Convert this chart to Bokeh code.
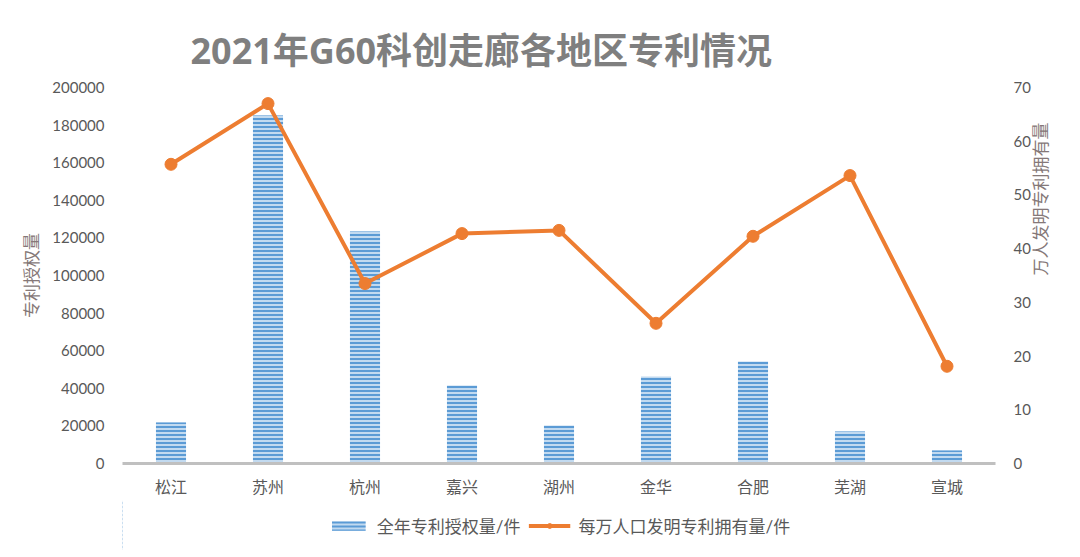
import math
from bokeh.plotting import figure
from bokeh.layouts import column
from bokeh.models import Range1d, LinearAxis, NumeralTickFormatter, FixedTicker, Legend, LegendItem, Title
from bokeh.embed import file_html
from bokeh.resources import INLINE

cities = ["松江", "苏州", "杭州", "嘉兴", "湖州", "金华", "合肥", "芜湖", "宣城"]
grants = [21800, 185100, 123400, 41500, 20200, 46300, 54300, 17000, 6900]
per_10k = [55.7, 67.0, 33.5, 42.8, 43.4, 26.1, 42.3, 53.6, 18.1]
left_ticks = list(range(0, 200001, 20000))
right_ticks = list(range(0, 71, 10))
title_text = "2021年G60科创走廊各地区专利情况"
left_label = "专利授权量"
right_label = "万人发明专利拥有量"
bar_name = "全年专利授权量/件"
line_name = "每万人口发明专利拥有量/件"

FONT = "Lato, 'Noto Sans CJK SC'"
TXT = "#595959"
LBL = "#857878"
BAR_STYLE = dict(fill_color="#c2daf0", line_color=None, hatch_pattern="horizontal_line",
                 hatch_color="#5b9bd5", hatch_scale=4, hatch_weight=2)
ORANGE = "#ed7d31"

p = figure(x_range=cities, y_range=Range1d(0, 200000), frame_width=873, frame_height=376,
           output_backend="svg", toolbar_location=None,
           min_border_left=122, min_border_right=85, min_border_top=87, min_border_bottom=37)
p.extra_y_ranges = {"r": Range1d(0, 70)}

p.title = Title(text=title_text, align="left", offset=68, text_font_size="36px",
                text_font_style="bold", text_color="#7f7f7f",
                text_font="'Open Sans', 'Noto Sans CJK SC'", standoff=25)

bars = p.vbar(x=cities, top=grants, width=0.31, **BAR_STYLE)
line = p.line(cities, per_10k, y_range_name="r", line_color=ORANGE, line_width=4)
pts = p.scatter(cities, per_10k, y_range_name="r", size=12, fill_color=ORANGE, line_color=ORANGE)

p.xgrid.grid_line_color = None
p.ygrid.grid_line_color = None
p.outline_line_color = None

yl = p.yaxis[0]
yl.ticker = FixedTicker(ticks=left_ticks)
yl.formatter = NumeralTickFormatter(format="0")
yl.axis_label = left_label

yr = LinearAxis(y_range_name="r", ticker=FixedTicker(ticks=right_ticks), axis_label=right_label)
yr.axis_label_orientation = math.pi / 2
p.add_layout(yr, "right")

for ax in (yl, yr):
    ax.axis_line_color = None
    ax.major_tick_line_color = None
    ax.minor_tick_line_color = None
    ax.major_label_text_font = FONT
    ax.major_label_text_font_size = "15px"
    ax.major_label_text_color = TXT
    ax.major_label_standoff = 12
    ax.axis_label_text_font = FONT
    ax.axis_label_text_font_size = "17px"
    ax.axis_label_text_font_style = "normal"
    ax.axis_label_text_color = LBL
    ax.axis_label_standoff = 7

xa = p.xaxis[0]
xa.axis_line_color = "#c0c0c0"
xa.axis_line_width = 3
xa.major_tick_line_color = None
xa.minor_tick_line_color = None
xa.major_label_text_font = FONT
xa.major_label_text_font_size = "16px"
xa.major_label_text_color = TXT
xa.major_label_standoff = 7

# legend strip below the chart (proxy renderers sit outside the strip's visible range)
lg = figure(width=1080, height=50, x_range=Range1d(0, 1), y_range=Range1d(0, 1),
            output_backend="svg", toolbar_location=None,
            min_border_left=0, min_border_right=0, min_border_top=0, min_border_bottom=0)
lg.axis.visible = False
lg.grid.grid_line_color = None
lg.outline_line_color = None
lb = lg.vbar(x=[-5], top=[1], width=0.1, **BAR_STYLE)
ll = lg.line(x=[-6, -5], y=[0.5, 0.5], line_color=ORANGE, line_width=4)
ls = lg.scatter(x=[-5], y=[0.5], size=12, fill_color=ORANGE, line_color=ORANGE)
legend = Legend(items=[LegendItem(label=bar_name, renderers=[lb]),
                       LegendItem(label=line_name, renderers=[ll, ls])],
                orientation="horizontal", location="center",
                glyph_width=42, glyph_height=12, spacing=8, label_standoff=8,
                label_text_font=FONT, label_text_font_size="17px", label_text_color=TXT,
                border_line_color=None, background_fill_alpha=0, margin=0, padding=0)
lg.add_layout(legend, "center")

layout = column(p, lg, spacing=0)
open("out.html", "w").write(file_html(layout, INLINE))
